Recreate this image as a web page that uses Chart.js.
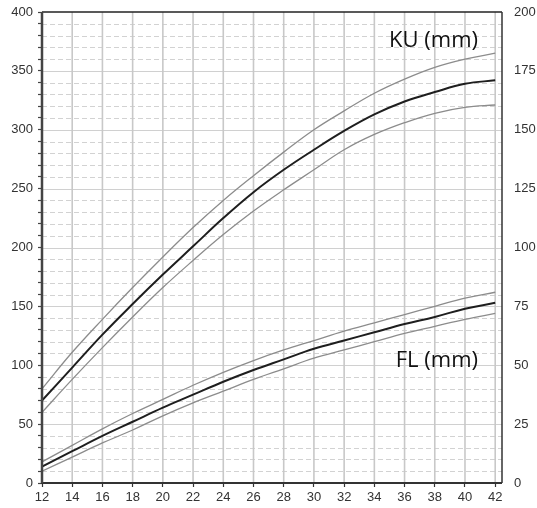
<!DOCTYPE html>
<html>
<head>
<meta charset="utf-8">
<script src="https://cdn.jsdelivr.net/npm/chart.js@4"></script>
<style>
  html, body { margin: 0; padding: 0; background: #fff; }
  #wrap { width: 537px; height: 508px; position: relative; }
</style>
</head>
<body>
<div id="wrap"><canvas id="c" width="537" height="508"></canvas></div>
<script>
// Gestational weeks
const weeks = [12,14,16,18,20,22,24,26,28,30,32,34,36,38,40,42];
// KU (mm)
const kuHigh = [80,111,139,166,192,217,240,261,281,300,316,331,343,353,360,365];
const kuMid  = [70, 98,126,152,177,201,225,247,266,283,299,313,324,332,339,342];
const kuLow  = [60, 88,115,141,166,189,211,231,249,266,283,296,306,314,319,321];
// FL (mm)
const flHigh = [18,32,46,59,71,83,94,104,113,121,129,136,143,150,157,162];
const flMid  = [14,27,40,52,64,75,86,96,105,114,121,128,135,141,148,153];
const flLow  = [10,22,34,45,57,68,78,88,97,106,113,120,127,133,139,144];
// Annotations
const labelKU = 'KU (mm)';
const labelFL = 'FL (mm)';

function series(arr) { return arr.map((v, i) => ({ x: weeks[i], y: v })); }
function ds(arr, main) {
  return {
    data: series(arr),
    borderColor: main ? '#1e1e1e' : '#8c8c8c',
    borderWidth: main ? 2 : 1.3,
    pointRadius: 0,
    fill: false,
    tension: 0.4,
    yAxisID: 'y'
  };
}

const gridPlugin = {
  id: 'customGrid',
  beforeDatasetsDraw(chart) {
    const { ctx, chartArea: a, scales: { x, y } } = chart;
    ctx.save();
    ctx.strokeStyle = '#d2d2d2';
    ctx.lineWidth = 1;
    ctx.setLineDash([5, 3]);
    for (let v = 10; v < 400; v += 10) {
      if (v % 50 === 0) continue;
      const py = Math.round(y.getPixelForValue(v)) + 0.5;
      ctx.beginPath(); ctx.moveTo(a.left, py); ctx.lineTo(a.right, py); ctx.stroke();
    }
    ctx.setLineDash([]);
    ctx.strokeStyle = '#d0d0d0';
    for (let v = 50; v < 400; v += 50) {
      const py = Math.round(y.getPixelForValue(v)) + 0.5;
      ctx.beginPath(); ctx.moveTo(a.left, py); ctx.lineTo(a.right, py); ctx.stroke();
    }
    ctx.strokeStyle = '#c8c8c8';
    ctx.lineWidth = 1.6;
    for (let w = 14; w <= 42; w += 2) {
      const px = x.getPixelForValue(w);
      ctx.beginPath(); ctx.moveTo(px, a.top); ctx.lineTo(px, a.bottom); ctx.stroke();
    }
    ctx.restore();
  },
  afterDatasetsDraw(chart) {
    const { ctx, chartArea: a } = chart;
    ctx.save();
    ctx.strokeStyle = '#222';
    ctx.lineWidth = 1.5;
    ctx.beginPath(); ctx.moveTo(a.left, a.top); ctx.lineTo(a.right, a.top); ctx.stroke();
    ctx.strokeStyle = '#333';
    ctx.beginPath(); ctx.moveTo(a.right, a.top); ctx.lineTo(a.right, a.bottom); ctx.stroke();
    ctx.lineWidth = 2;
    ctx.beginPath(); ctx.moveTo(a.left - 1, a.bottom); ctx.lineTo(a.right, a.bottom); ctx.stroke();
    ctx.strokeStyle = '#444';
    ctx.lineWidth = 2.5;
    ctx.beginPath(); ctx.moveTo(a.left, a.top); ctx.lineTo(a.left, a.bottom); ctx.stroke();
    ctx.fillStyle = '#111';
    ctx.font = '22px "Open Sans"';
    ctx.textBaseline = 'alphabetic';
    ctx.textAlign = 'right';
    ctx.fillText(labelKU, 478, 47);
    ctx.fillText(labelFL, 478, 367);
    ctx.restore();
  }
};

function noPad(s) { s.paddingTop = 0; s.paddingBottom = 0; s.paddingLeft = 0; s.paddingRight = 0; }

new Chart(document.getElementById('c'), {
  type: 'line',
  data: {
    datasets: [ds(kuHigh,false), ds(kuMid,true), ds(kuLow,false), ds(flHigh,false), ds(flMid,true), ds(flLow,false)]
  },
  options: {
    responsive: false,
    animation: false,
    devicePixelRatio: 1,
    layout: { padding: { top: 12, left: 0, right: 0, bottom: 0 } },
    plugins: { legend: { display: false }, tooltip: { enabled: false } },
    scales: {
      x: {
        type: 'linear',
        min: 12, max: 42.45,
        afterFit(s) { s.height = 25; noPad(s); },
        ticks: {
          stepSize: 2, includeBounds: false, autoSkip: false, maxRotation: 0,
          color: '#333', font: { family: '"Liberation Sans", Arial', size: 13 }, padding: 3
        },
        grid: { drawOnChartArea: false, drawTicks: true, tickLength: 4, tickColor: '#333', tickWidth: 1.2 },
        border: { display: false }
      },
      y: {
        position: 'left',
        min: 0, max: 400,
        afterFit(s) { s.width = 42; noPad(s); },
        ticks: {
          stepSize: 10, autoSkip: false, includeBounds: false,
          callback: v => (v % 50 === 0 ? String(v) : ''),
          color: '#333', font: { family: '"Liberation Sans", Arial', size: 13 }, padding: 5
        },
        grid: { drawOnChartArea: false, drawTicks: true, tickLength: 4, tickColor: '#444', tickWidth: 1.2 },
        border: { display: false }
      },
      y1: {
        position: 'right',
        min: 0, max: 200,
        afterFit(s) { s.width = 35; noPad(s); },
        ticks: {
          stepSize: 25, color: '#333', font: { family: '"Liberation Sans", Arial', size: 13 }, padding: 12
        },
        grid: { display: false, drawTicks: false },
        border: { display: false }
      }
    }
  },
  plugins: [gridPlugin]
});
</script>
</body>
</html>
